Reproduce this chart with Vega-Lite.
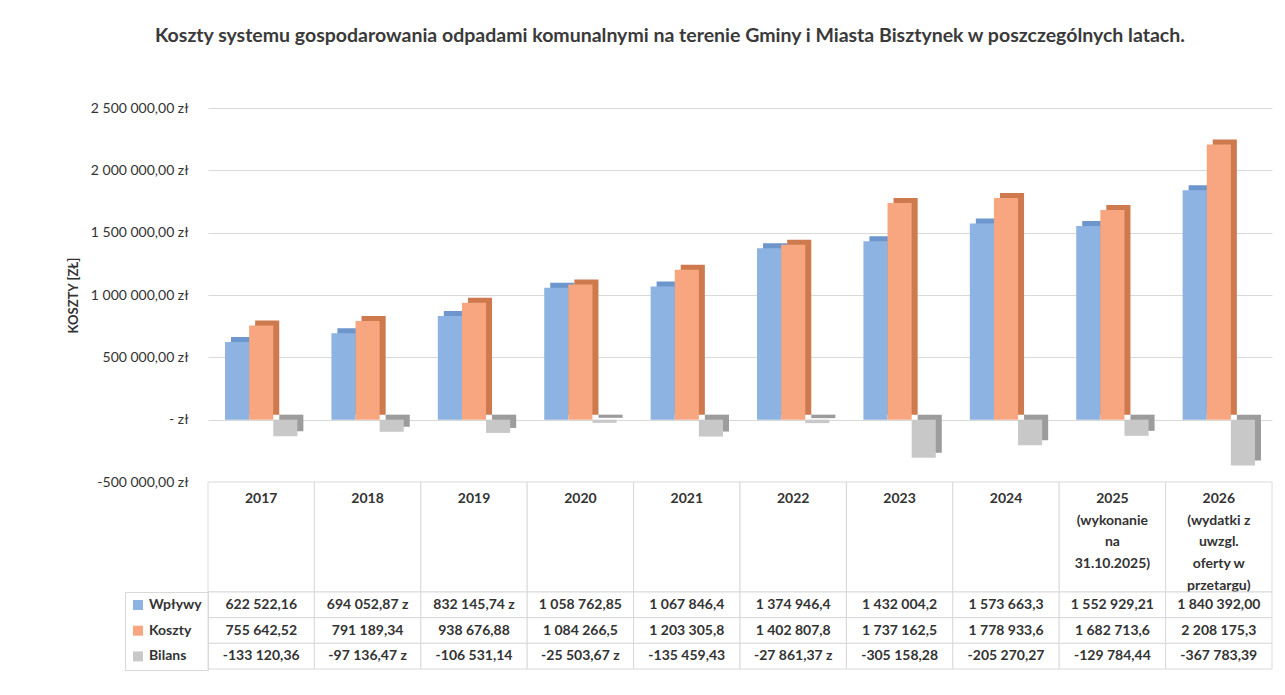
{
  "$schema": "https://vega.github.io/schema/vega-lite/v6.json",
  "padding": {"left": 67, "top": 25, "right": 13, "bottom": 5},
  "background": "white",
  "bounds": "flush",
  "title": {
    "text": "Koszty systemu gospodarowania odpadami komunalnymi na terenie Gminy i Miasta Bisztynek w poszczególnych latach.",
    "font": "Lato", "fontSize": 19.5, "fontWeight": "bold", "color": "#3a3a3a",
    "anchor": "middle", "offset": 55
  },
  "config": {
    "font": "Lato",
    "locale": {"number": {"decimal": ",", "thousands": " ", "grouping": [3], "currency": ["", " zł"], "minus": "-"}},
    "view": {"stroke": null},
    "concat": {"spacing": 0}
  },
  "resolve": {
    "scale": {"x": "independent", "y": "independent", "color": "independent", "fill": "independent", "stroke": "independent"},
    "legend": {"color": "independent"}
  },
  "datasets": {
    "dane": [
      {"rok": "2017", "seria": "Wpływy", "wartosc": 622522.16, "etykieta": "622 522,16"},
      {"rok": "2018", "seria": "Wpływy", "wartosc": 694052.87, "etykieta": "694 052,87 z"},
      {"rok": "2019", "seria": "Wpływy", "wartosc": 832145.74, "etykieta": "832 145,74 z"},
      {"rok": "2020", "seria": "Wpływy", "wartosc": 1058762.85, "etykieta": "1 058 762,85"},
      {"rok": "2021", "seria": "Wpływy", "wartosc": 1067846.4, "etykieta": "1 067 846,4"},
      {"rok": "2022", "seria": "Wpływy", "wartosc": 1374946.4, "etykieta": "1 374 946,4"},
      {"rok": "2023", "seria": "Wpływy", "wartosc": 1432004.2, "etykieta": "1 432 004,2"},
      {"rok": "2024", "seria": "Wpływy", "wartosc": 1573663.3, "etykieta": "1 573 663,3"},
      {"rok": "2025", "seria": "Wpływy", "wartosc": 1552929.21, "etykieta": "1 552 929,21"},
      {"rok": "2026", "seria": "Wpływy", "wartosc": 1840392.0, "etykieta": "1 840 392,00"},
      {"rok": "2017", "seria": "Koszty", "wartosc": 755642.52, "etykieta": "755 642,52"},
      {"rok": "2018", "seria": "Koszty", "wartosc": 791189.34, "etykieta": "791 189,34"},
      {"rok": "2019", "seria": "Koszty", "wartosc": 938676.88, "etykieta": "938 676,88"},
      {"rok": "2020", "seria": "Koszty", "wartosc": 1084266.5, "etykieta": "1 084 266,5"},
      {"rok": "2021", "seria": "Koszty", "wartosc": 1203305.8, "etykieta": "1 203 305,8"},
      {"rok": "2022", "seria": "Koszty", "wartosc": 1402807.8, "etykieta": "1 402 807,8"},
      {"rok": "2023", "seria": "Koszty", "wartosc": 1737162.5, "etykieta": "1 737 162,5"},
      {"rok": "2024", "seria": "Koszty", "wartosc": 1778933.6, "etykieta": "1 778 933,6"},
      {"rok": "2025", "seria": "Koszty", "wartosc": 1682713.6, "etykieta": "1 682 713,6"},
      {"rok": "2026", "seria": "Koszty", "wartosc": 2208175.3, "etykieta": "2 208 175,3"},
      {"rok": "2017", "seria": "Bilans", "wartosc": -133120.36, "etykieta": "-133 120,36"},
      {"rok": "2018", "seria": "Bilans", "wartosc": -97136.47, "etykieta": "-97 136,47 z"},
      {"rok": "2019", "seria": "Bilans", "wartosc": -106531.14, "etykieta": "-106 531,14"},
      {"rok": "2020", "seria": "Bilans", "wartosc": -25503.67, "etykieta": "-25 503,67 z"},
      {"rok": "2021", "seria": "Bilans", "wartosc": -135459.43, "etykieta": "-135 459,43"},
      {"rok": "2022", "seria": "Bilans", "wartosc": -27861.37, "etykieta": "-27 861,37 z"},
      {"rok": "2023", "seria": "Bilans", "wartosc": -305158.28, "etykieta": "-305 158,28"},
      {"rok": "2024", "seria": "Bilans", "wartosc": -205270.27, "etykieta": "-205 270,27"},
      {"rok": "2025", "seria": "Bilans", "wartosc": -129784.44, "etykieta": "-129 784,44"},
      {"rok": "2026", "seria": "Bilans", "wartosc": -367783.39, "etykieta": "-367 783,39"}
    ],
    "lata": [
      {"rok": "2017", "wiersz": "nagłówek", "naglowek": "2017"},
      {"rok": "2018", "wiersz": "nagłówek", "naglowek": "2018"},
      {"rok": "2019", "wiersz": "nagłówek", "naglowek": "2019"},
      {"rok": "2020", "wiersz": "nagłówek", "naglowek": "2020"},
      {"rok": "2021", "wiersz": "nagłówek", "naglowek": "2021"},
      {"rok": "2022", "wiersz": "nagłówek", "naglowek": "2022"},
      {"rok": "2023", "wiersz": "nagłówek", "naglowek": "2023"},
      {"rok": "2024", "wiersz": "nagłówek", "naglowek": "2024"},
      {"rok": "2025", "wiersz": "nagłówek", "naglowek": "2025\n(wykonanie\nna\n31.10.2025)"},
      {"rok": "2026", "wiersz": "nagłówek", "naglowek": "2026\n(wydatki z\nuwzgl.\noferty w\nprzetargu)"}
    ]
  },
  "vconcat": [
    {
      "width": 1064,
      "height": 374,
      "data": {"name": "dane"},
      "resolve": {"scale": {"xOffset": "independent"}},
      "encoding": {
        "x": {"field": "rok", "type": "nominal", "axis": null, "scale": {"paddingInner": 0.32, "paddingOuter": 0.16}},
        "y": {
          "field": "wartosc", "type": "quantitative",
          "scale": {"domain": [-500000, 2500000], "nice": false, "zero": false},
          "axis": {
            "title": "KOSZTY [ZŁ]", "titleFontSize": 13, "titleFontWeight": "bold", "titleColor": "#333333", "titlePadding": 10,
            "format": "$,.2f",
            "labelExpr": "datum.value === 0 ? '-    zł' : datum.label",
            "values": [-500000, 0, 500000, 1000000, 1500000, 2000000, 2500000],
            "labelFontSize": 14, "labelColor": "#333333", "labelPadding": 20,
            "ticks": false, "domain": false,
            "grid": true, "gridColor": "#d9d9d9", "gridWidth": 1
          }
        }
      },
      "layer": [
        {
          "mark": {"type": "bar", "yOffset": -5},
          "encoding": {
            "xOffset": {"field": "seria", "type": "nominal", "sort": ["Wpływy", "Koszty", "Bilans"], "scale": {"range": [6, 78.35]}},
            "fill": {
              "field": "seria", "type": "nominal",
              "scale": {"domain": ["Wpływy", "Koszty", "Bilans"], "range": ["#6d96cc", "#cf7a4e", "#9c9c9c"]},
              "legend": null
            }
          }
        },
        {
          "mark": {"type": "bar"},
          "encoding": {
            "xOffset": {"field": "seria", "type": "nominal", "sort": ["Wpływy", "Koszty", "Bilans"]},
            "color": {
              "field": "seria", "type": "nominal",
              "scale": {"domain": ["Wpływy", "Koszty", "Bilans"], "range": ["#8db3e2", "#f7a67f", "#c8c8c8"]},
              "legend": null
            }
          }
        }
      ]
    },
    {
      "width": 1064,
      "height": 110,
      "data": {"name": "lata"},
      "encoding": {
        "x": {"field": "rok", "type": "nominal", "axis": null, "scale": {"paddingInner": 0, "paddingOuter": 0}}
      },
      "layer": [
        {
          "mark": {"type": "rect", "fill": "white", "stroke": "#d9d9d9", "strokeWidth": 1},
          "encoding": {"y": {"field": "wiersz", "type": "nominal", "axis": null}}
        },
        {
          "mark": {"type": "text", "baseline": "top", "dy": 10, "lineBreak": "\n", "lineHeight": 21.7, "fontSize": 14, "fontWeight": "bold", "color": "#333333"},
          "encoding": {
            "y": {"field": "wiersz", "type": "nominal", "axis": null, "bandPosition": 0},
            "text": {"field": "naglowek"}
          }
        }
      ]
    },
    {
      "width": 1064,
      "height": 77,
      "data": {"name": "dane"},
      "encoding": {
        "x": {"field": "rok", "type": "nominal", "axis": null, "scale": {"paddingInner": 0, "paddingOuter": 0}},
        "y": {"field": "seria", "type": "nominal", "sort": ["Wpływy", "Koszty", "Bilans"], "axis": null, "scale": {"paddingInner": 0, "paddingOuter": 0}}
      },
      "layer": [
        {
          "mark": {"type": "rect", "fill": "white", "stroke": "#d9d9d9", "strokeWidth": 1}
        },
        {
          "mark": {"type": "text", "fontSize": 14, "fontWeight": "bold", "color": "#333333"},
          "encoding": {"text": {"field": "etykieta"}}
        },
        {
          "mark": {"type": "square", "opacity": 0},
          "encoding": {
            "color": {
              "field": "seria", "type": "nominal",
              "scale": {"domain": ["Wpływy", "Koszty", "Bilans"], "range": ["#8db3e2", "#f7a67f", "#c8c8c8"]},
              "legend": {
                "title": null, "orient": "left", "offset": 0, "padding": 6,
                "strokeColor": "#d9d9d9", "cornerRadius": 0,
                "symbolType": "square", "symbolSize": 100, "symbolOpacity": 1, "symbolStrokeWidth": 0,
                "labelFontSize": 14, "labelFontWeight": "bold", "labelColor": "#333333", "labelOffset": 4,
                "rowPadding": 11.7
              }
            }
          }
        }
      ]
    }
  ]
}
